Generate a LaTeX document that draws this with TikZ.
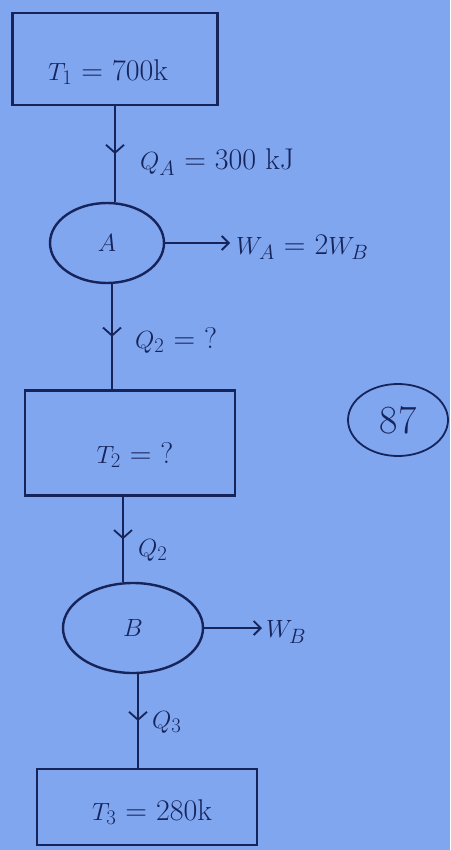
\documentclass[tikz,border=0pt]{standalone}
\usetikzlibrary{shapes.geometric,arrows.meta,decorations.markings}
\definecolor{paper}{RGB}{128,166,240}
\definecolor{ink}{RGB}{22,36,90}
\begin{document}
\begin{tikzpicture}[x=1pt,y=-1pt,
  every node/.style={text=ink,font=\fontsize{30}{34}\selectfont},
  res/.style={draw=ink,line width=2.4pt,rectangle,inner sep=0pt},
  eng/.style={draw=ink,line width=2.4pt,ellipse,inner sep=0pt},
  flow/.style={draw=ink,line width=2.4pt,postaction={decorate},
    decoration={markings,mark=at position 0.5 with {\arrow[ink,line width=1.8pt]{Straight Barb[length=8pt,width=18pt]}}}},
  work/.style={draw=ink,line width=1.8pt,-{Straight Barb[length=7pt,width=14pt]}},
  lbl/.style={anchor=west,inner sep=0pt}]
\fill[paper] (0,0) rectangle (450,850);
\useasboundingbox (0,0) rectangle (450,850);
% reservoirs and engines
\node[res,minimum width=205pt,minimum height=92pt] (T1) at (115,59) {};
\node at (108,72) (t1txt) {$T_1$ = 700k};
\node[eng,minimum width=114pt,minimum height=80pt] (A) at (107,243) {$A$};
\node[res,minimum width=210pt,minimum height=105pt] (T2) at (130,443) {};
\node at (135,455) (t2txt) {$T_2$ = ?};
\node[eng,minimum width=140pt,minimum height=90pt] (B) at (133,628) {$B$};
\node[res,minimum width=220pt,minimum height=76pt] (T3) at (147,807) {};
\node at (152,812) (t3txt) {$T_3$ = 280k};
% heat flows
\draw[flow] (T1.south -| 115,0) -- (A.north -| 115,0);
\draw[flow] (A.south -| 112,0) -- (T2.north -| 112,0);
\draw[flow] (T2.south -| 123,0) -- (B.north -| 123,0);
\draw[flow] (B.south -| 138,0) -- (T3.north -| 138,0);
\node[lbl] (qa) at (140,162) {$Q_A$ = 300 kJ};
\node[lbl] (q2a) at (135,340) {$Q_2$ = ?};
\node[lbl] (q2b) at (138,550) {$Q_2$};
\node[lbl] (q3) at (152,722) {$Q_3$};
% work outputs
\coordinate (wa) at (230,243);
\draw[work] (A.east) -- (wa);
\node[lbl] (walbl) at (236,247) {$W_A$ = 2$W_B$};
\coordinate (wb) at (262,628);
\draw[work] (B.east) -- (wb);
\node[lbl] (wblbl) at (266,632) {$W_B$};
% page mark
\node[draw=ink,line width=1.8pt,ellipse,minimum width=100pt,minimum height=72pt,inner sep=0pt,font=\fontsize{40}{44}\selectfont] (pg) at (398,420) {87};
\end{tikzpicture}
\end{document}
